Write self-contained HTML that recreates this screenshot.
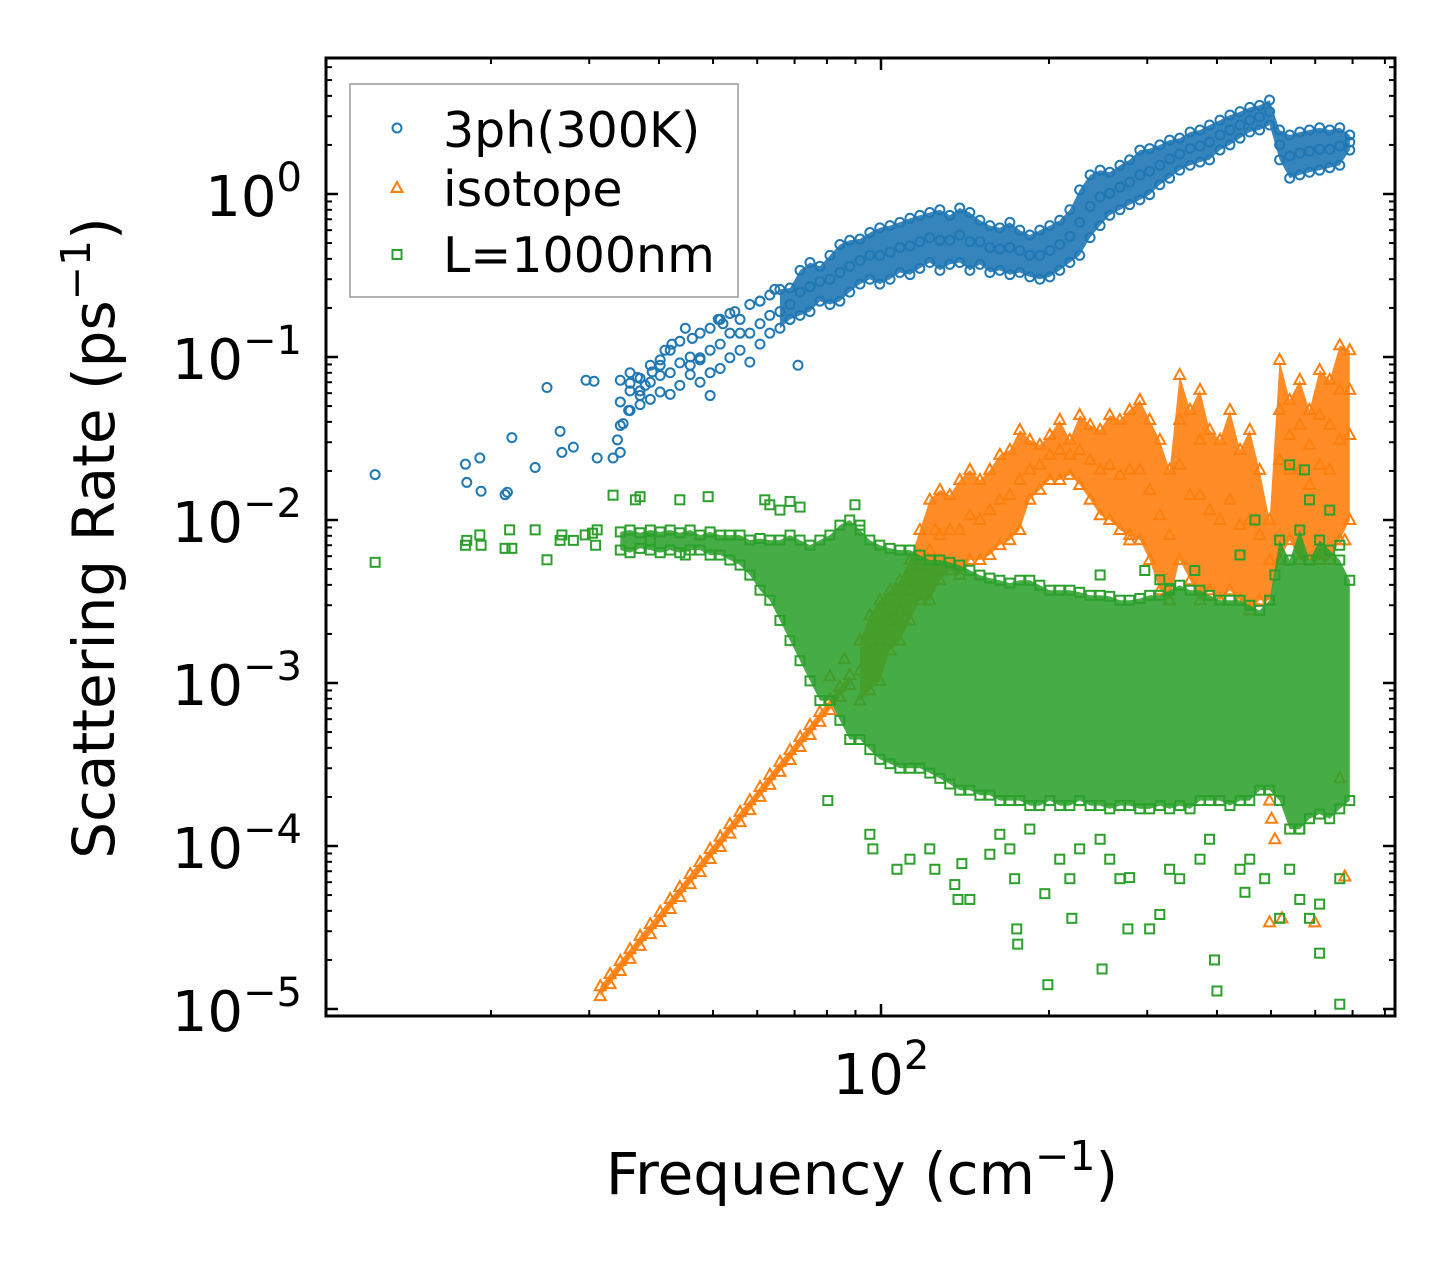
<!DOCTYPE html>
<html><head><meta charset="utf-8"><style>
html,body{margin:0;padding:0;background:#fff;}
svg{display:block;font-family:"DejaVu Sans","Liberation Sans",sans-serif;}
</style></head><body>
<svg id="chart" width="1455" height="1265" viewBox="0 0 1455 1265" xmlns="http://www.w3.org/2000/svg">
<defs><clipPath id="plotclip"><rect x="326" y="58" width="1069" height="958"/></clipPath></defs>
<rect x="0" y="0" width="1455" height="1265" fill="#fff"/>
<g id="marks" clip-path="url(#plotclip)"></g>
<g id="axes"></g>
<rect x="326" y="58" width="1069" height="958" fill="none" stroke="#000" stroke-width="3"/>
<text x="862" y="1194" font-size="58" text-anchor="middle">Frequency (cm<tspan font-size="41" dy="-24">−1</tspan><tspan dy="24">)</tspan></text>
<text transform="translate(114,538) rotate(-90)" font-size="58" text-anchor="middle">Scattering Rate (ps<tspan font-size="41" dy="-24">−1</tspan><tspan dy="24">)</tspan></text>
<g>
<rect x="350" y="84" width="388" height="213" fill="#fff" stroke="#999" stroke-width="1.5"/>
<circle cx="397" cy="128" r="4.5" fill="none" stroke="#1f77b4" stroke-width="2"/>
<text x="443" y="147" font-size="49">3ph(300K)</text>
<polygon points="397,182 402.5,192 391.5,192" fill="none" stroke="#ff7f0e" stroke-width="2"/>
<text x="443" y="206" font-size="49">isotope</text>
<rect x="392.5" y="250" width="9" height="9" fill="none" stroke="#2ca02c" stroke-width="2"/>
<text x="443" y="272" font-size="49">L=1000nm</text>
</g>
</svg>
<script>
// ---------- data ----------
const freqGrid = [34.1,35.5,37.0,38.6,40.2,41.9,43.6,45.5,47.4,49.4,51.5,53.6,55.9,58.2,60.7,63.2,65.9,68.7,71.6,74.6,77.7,81.0,84.4,87.9,91.7,95.5,99.5,103.8,108.1,112.7,117.4,122.3,127.5,132.8,138.4,144.3,150.4,156.7,163.3,170.2,177.3,184.8,192.6,200.7,209.1,218,227,237,247,257,268,279,291,303,316,329,343,358,373,388,405,422,440,458,477,497,518,540,563,586,611,637,664,692];
const blueHi = [.072,.080,.074,.089,.096,.11,.125,.10,.14,.15,.17,.185,.17,.21,.22,.24,.26,.265,.34,.38,.36,.42,.49,.52,.53,.58,.62,.64,.67,.71,.74,.77,.80,.74,.82,.77,.69,.64,.62,.67,.60,.56,.60,.64,.69,.80,1.06,1.31,1.40,1.36,1.50,1.62,1.86,1.9,2.0,2.14,2.2,2.4,2.47,2.65,2.84,3.05,3.2,3.4,3.5,3.77,2.47,2.3,2.4,2.47,2.55,2.47,2.55,2.3];
const blueMid = [.053,.062,.062,.070,.077,.080,.092,.089,.099,.11,.12,.14,.14,.14,.16,.18,.19,.21,.25,.27,.29,.30,.33,.36,.39,.42,.42,.44,.47,.48,.51,.54,.52,.52,.56,.51,.51,.47,.46,.47,.45,.42,.42,.45,.49,.55,.67,.84,.96,1.01,1.10,1.18,1.31,1.38,1.50,1.64,1.76,1.9,1.97,2.08,2.3,2.47,2.65,2.84,2.97,3.2,2.0,1.71,1.78,1.83,1.88,1.88,1.97,2.08];
const blueLo = [.038,.047,.051,.055,.061,.059,.067,.078,.070,.080,.085,.099,.11,.093,.12,.14,.15,.17,.18,.19,.22,.21,.22,.25,.28,.30,.28,.30,.33,.32,.35,.38,.34,.37,.38,.34,.37,.33,.34,.32,.33,.31,.30,.31,.34,.38,.42,.54,.64,.74,.80,.86,.92,.99,1.14,1.25,1.40,1.50,1.57,1.62,1.86,2.0,2.2,2.4,2.47,2.65,1.62,1.25,1.31,1.36,1.40,1.45,1.50,1.86];
const blueSparseFreq = [12.4,18.0,18.1,19.1,19.2,21.2,21.4,21.8,24.0,25.2,26.6,26.8,28.1,29.6,30.6,31.0,33.1,33.7,34.1,34.5,35.3,35.5,36.6,37.0,37.8,38.9,40.2,41.0,42.2,44.6,45.9,47.4,49.4,51.1,52.1,54.7,60.7,64.5,71.0];
const blueSparseRate = [.019,.022,.017,.024,.015,.0143,.0148,.032,.021,.065,.035,.026,.028,.072,.071,.024,.024,.031,.026,.039,.047,.069,.075,.058,.067,.081,.089,.11,.12,.15,.13,.096,.058,.17,.16,.19,.22,.26,.089];

const orangeDiagFreq = [31.4,32.7,34.1,35.5,37.0,38.6,40.2,41.9,43.6,45.5,47.4,49.4,51.5,53.6,55.9,58.2,60.7,63.2,65.9,68.7,71.6,74.6,77.7,81.0,84.4,87.9];
const orangeDiagHi = [1.38e-5,1.64e-5,1.97e-5,2.33e-5,2.81e-5,3.32e-5,3.94e-5,4.73e-5,5.60e-5,6.73e-5,7.98e-5,9.59e-5,1.14e-4,1.36e-4,1.62e-4,1.91e-4,2.30e-4,2.73e-4,3.28e-4,3.88e-4,4.67e-4,5.52e-4,6.64e-4,7.87e-4,9.45e-4,1.12e-3];
const orangeDiagLo = [1.20e-5,1.42e-5,1.71e-5,2.03e-5,2.44e-5,2.88e-5,3.42e-5,4.11e-5,4.86e-5,5.84e-5,6.92e-5,8.32e-5,9.86e-5,1.19e-4,1.40e-4,1.66e-4,2.00e-4,2.37e-4,2.85e-4,3.37e-4,4.05e-4,4.80e-4,5.77e-4,6.83e-4,8.20e-4,9.73e-4];
const orangeFreq = freqGrid.slice(24);
const orangeHi = [.00182,.0026,.00322,.00371,.00427,.00568,.00868,.0133,.0153,.0142,.0176,.0203,.0176,.0203,.0251,.0269,.0357,.0310,.0289,.0332,.0411,.0310,.044,.0383,.0357,.044,.0411,.0473,.0545,.0411,.0310,.0203,.0776,.0473,.0628,.0357,.0310,.0473,.0269,.0357,.0203,.0100,.0959,.0545,.0723,.0473,.0832,.0723,.118,.110];
const orangeMid = [.00119,.00158,.00182,.00242,.00279,.00371,.00529,.00654,.00808,.00868,.00868,.0107,.0100,.0115,.0133,.0142,.0176,.0203,.0218,.0251,.0269,.0251,.0269,.0233,.0203,.0218,.0189,.0203,.0203,.0153,.0107,.00808,.0218,.0142,.0142,.0115,.0100,.0133,.00932,.0100,.00808,.00568,.0233,.0203,.0203,.0164,.0218,.0203,.0310,.0332];
const orangeLo = [.00078,.0009,.00103,.00158,.00182,.00242,.00322,.00322,.00427,.00492,.00459,.00568,.00568,.00609,.00701,.00753,.00868,.0133,.0153,.0176,.0176,.0189,.0164,.0133,.0107,.0100,.00868,.00808,.00753,.00568,.00371,.00322,.00568,.00427,.00322,.00371,.00322,.00371,.00322,.00279,.00322,.00322,.00568,.00753,.00568,.00568,.00568,.00568,.00753,.0100];
const orangeExtraFreq = [518,540,563,586,611,637,664,692,343,373,497,501,508,497,523,599,678,664,678,125,279,86,81];
const orangeExtraRate = [.0473,.0332,.0383,.0289,.044,.0383,.0628,.0628,.0411,.031,.00019,.000147,.00011,.000034,.000036,.000034,.000065,.00026,.0075,.0087,.0075,.0014,.0011];

const greenHi = [.00845,.00868,.00835,.00868,.00845,.00868,.00835,.00868,.00808,.00845,.00808,.00808,.00808,.00753,.0077,.00753,.00753,.00808,.00753,.00701,.00753,.00808,.0093,.0100,.00868,.00753,.00701,.0067,.00654,.00654,.00609,.00568,.00568,.0055,.00529,.00492,.00459,.0044,.00427,.0041,.00427,.00427,.00398,.00371,.00371,.00371,.0036,.00345,.00345,.0034,.00322,.00322,.0033,.00345,.00345,.00371,.00398,.00371,.00371,.00345,.00322,.00322,.00322,.0030,.00279,.00322,.00753,.00568,.00868,.00568,.00753,.00654,.00568,.00427];
const greenLo = [.00654,.0063,.0067,.00654,.0063,.00654,.0063,.00654,.00654,.00609,.00609,.00568,.00529,.00459,.00371,.00322,.00242,.00182,.00137,.00103,.00078,.00078,.00059,.00045,.00045,.00039,.00034,.00032,.0003,.0003,.0003,.00028,.00026,.00024,.00022,.00022,.000205,.000205,.00019,.00019,.00019,.000177,.000177,.00019,.000177,.000177,.00019,.000177,.000177,.000169,.000177,.000177,.000169,.000169,.000177,.000169,.000177,.000169,.00019,.00019,.00019,.000177,.00019,.00019,.00022,.00022,.00019,.000127,.000127,.000147,.000157,.000147,.000169,.00019];
const greenScatterFreq = [12.4,18.0,18.1,19.1,19.2,21.2,21.6,21.8,24.0,25.2,26.6,26.8,28.1,29.5,30.4,30.8,31.0,33.1,36.3,37.0,38.6,43.6,44.6,49.0,61.9,63.2,65.9,68.7,71.6,89.8,91.7,247,297,316,329,365,440,468,508,540,574,586,637,664,80.3,95.5,96.7,106.8,112.7,122.3,124.9,135.6,137.4,139.6,144.3,156.7,163.3,170.2,173.6,175.1,175.8,184.8,196.6,199.1,209.1,218,219.8,227,247,249,257,268,277,279,303,316,329,343,373,388,396,400,440,449,458,487,518,540,563,586,611,611,664,664,563];
const greenScatterRate = [.0055,.0070,.0075,.0081,.0070,.0067,.0087,.0067,.0087,.0057,.0075,.0081,.0075,.0081,.0083,.0070,.0087,.0142,.0133,.0139,.0075,.0133,.0061,.0139,.0133,.0124,.0115,.013,.012,.0124,.0093,.0046,.0049,.0043,.0038,.0049,.0061,.01,.0046,.0218,.0203,.0133,.0115,.0070,.00019,.000118,.000096,.000072,.000083,.000096,.000072,.000058,.000047,.000078,.000047,.000089,.000118,.000096,.000063,.000031,.000025,.000127,.000051,.0000141,.000083,.000063,.000036,.000096,.00011,.0000176,.000083,.000063,.000031,.000064,.000031,.000038,.000072,.000063,.000083,.00011,.00002,.0000129,.000072,.000052,.000083,.000063,.000036,.000072,.000047,.000036,.000044,.000022,.000063,.0000107,.000127];

const yTickExps = [0,-1,-2,-3,-4,-5];
const xTickExps = [2];

// ---------- axes functions ----------
const X0 = 881, XDEC = 558, Y0 = 194, YDEC = 163;
function xScale(f){ return X0 + XDEC*(Math.log10(f)-2); }
function yScale(v){ return Y0 - YDEC*Math.log10(v); }

const NS = 'http://www.w3.org/2000/svg';
const marks = document.getElementById('marks');
const axes = document.getElementById('axes');
function mk(tag, attrs, parent){
  const e = document.createElementNS(NS, tag);
  for (const k in attrs) e.setAttribute(k, attrs[k]);
  parent.appendChild(e);
  return e;
}
function band(freqs, hi, lo, color, op, name){
  let d = '';
  for (let i=0;i<freqs.length;i++) d += (i?'L':'M') + xScale(freqs[i]).toFixed(1)+','+yScale(hi[i]).toFixed(1);
  for (let i=freqs.length-1;i>=0;i--) d += 'L' + xScale(freqs[i]).toFixed(1)+','+yScale(lo[i]).toFixed(1);
  const p = mk('path', {d: d+'Z', fill: color, 'fill-opacity': op, stroke: 'none'}, marks);
  
  
}
function circle(f, v, name){
  const c = mk('circle', {cx: xScale(f), cy: yScale(v), r: 4.5, fill: 'none', stroke: '#1f77b4', 'stroke-width': 2}, marks);
  
  
}
function tri(f, v, name){
  const x = xScale(f), y = yScale(v);
  const t = mk('polygon', {points: `${x},${y-6} ${x+5.5},${y+4} ${x-5.5},${y+4}`, fill: 'none', stroke: '#ff7f0e', 'stroke-width': 2}, marks);
  
  
}
function sq(f, v, name){
  const s = mk('rect', {x: xScale(f)-4.5, y: yScale(v)-4.5, width: 9, height: 9, fill: 'none', stroke: '#2ca02c', 'stroke-width': 2}, marks);
  
  
}

// ---------- blue 3ph ----------
band(freqGrid.slice(16), blueHi.slice(16), blueLo.slice(16), '#1f77b4', 0.9, 'band-3ph');
for (let i=0;i<freqGrid.length;i++){ circle(freqGrid[i], blueHi[i], 'point-3ph'); circle(freqGrid[i], blueMid[i], 'point-3ph'); circle(freqGrid[i], blueLo[i], 'point-3ph'); }
for (let i=0;i<blueSparseFreq.length;i++) circle(blueSparseFreq[i], blueSparseRate[i], 'point-3ph');

// ---------- orange isotope ----------
band(orangeDiagFreq, orangeDiagHi, orangeDiagLo, '#ff7f0e', 0.9, 'band-isotope-low');
band(orangeFreq, orangeHi, orangeLo, '#ff7f0e', 0.9, 'band-isotope');
for (let i=0;i<orangeDiagFreq.length;i++){ tri(orangeDiagFreq[i], orangeDiagHi[i], 'point-isotope'); tri(orangeDiagFreq[i], orangeDiagLo[i], 'point-isotope'); }
for (let i=0;i<orangeFreq.length;i++){ tri(orangeFreq[i], orangeHi[i], 'point-isotope'); tri(orangeFreq[i], orangeMid[i], 'point-isotope'); tri(orangeFreq[i], orangeLo[i], 'point-isotope'); }
for (let i=0;i<orangeExtraFreq.length;i++) tri(orangeExtraFreq[i], orangeExtraRate[i], 'point-isotope');

// ---------- green boundary ----------
band(freqGrid, greenHi, greenLo, '#2ca02c', 0.88, 'band-boundary');
for (let i=0;i<freqGrid.length;i++){ sq(freqGrid[i], greenHi[i], 'point-boundary'); sq(freqGrid[i], greenLo[i], 'point-boundary'); }
for (let i=0;i<greenScatterFreq.length;i++) sq(greenScatterFreq[i], greenScatterRate[i], 'point-boundary');

// ---------- ticks ----------
const L = 326, R = 1395, T = 58, B = 1016;
function line(x1,y1,x2,y2,w,name){
  const l = mk('line', {x1,y1,x2,y2,stroke:'#000','stroke-width':w}, axes);
  
  
}
for (let k=-6;k<=1;k++){
  for (let m=1;m<10;m++){
    const v = m*Math.pow(10,k), y = yScale(v);
    if (y < T+1 || y > B-1) continue;
    const len = m===1 ? 12 : 6, w = m===1 ? 2.5 : 2;
    line(L,y,L+len,y,w,'y-tick'); line(R,y,R-len,y,w,'y-tick');
  }
  for (let m=1;m<10;m++){
    const f = m*Math.pow(10,k+1), x = xScale(f);
    if (x < L+1 || x > R-1) continue;
    const len = m===1 ? 12 : 6, w = m===1 ? 2.5 : 2;
    line(x,B,x,B-len,w,'x-tick'); line(x,T,x,T+len,w,'x-tick');
  }
}
for (const e of yTickExps){
  const y = yScale(Math.pow(10,e));
  const t = mk('text', {x: 302, y: y+22, 'font-size': 56, 'text-anchor': 'end'}, axes);
  
  
  const lbl = e===0 ? '0' : '−'+(-e);
  t.innerHTML = '10<tspan font-size="40" dy="-25">'+lbl+'</tspan>';
}
for (const e of xTickExps){
  const x = xScale(Math.pow(10,e));
  const t = mk('text', {x: x, y: 1094, 'font-size': 56, 'text-anchor': 'middle'}, axes);
  
  
  t.innerHTML = '10<tspan font-size="40" dy="-25">'+e+'</tspan>';
}
</script>
</body></html>
